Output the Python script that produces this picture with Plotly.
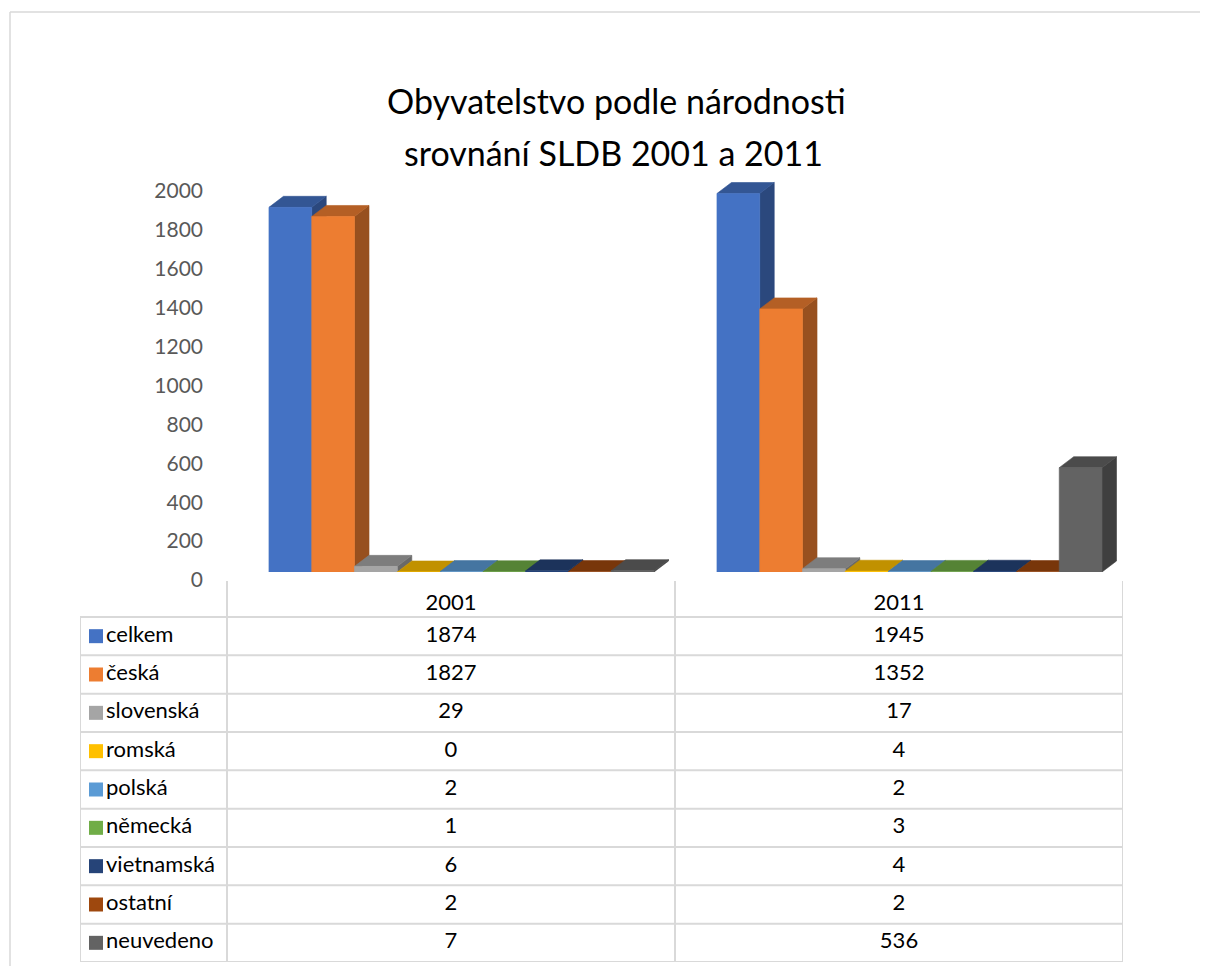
import plotly.graph_objects as go

# ---------------- data ----------------
series = ["celkem", "česká", "slovenská", "romská", "polská",
          "německá", "vietnamská", "ostatní", "neuvedeno"]
years = ["2001", "2011"]
values_2001 = [1874, 1827, 29, 0, 2, 1, 6, 2, 7]
values_2011 = [1945, 1352, 17, 4, 2, 3, 4, 2, 536]
colors = ["#4472C4", "#ED7D31", "#A5A5A5", "#FFC000", "#5B9BD5",
          "#70AD47", "#264478", "#9E480E", "#636363"]
y_ticks = list(range(0, 2001, 200))
title_lines = ["Obyvatelstvo podle národnosti", "srovnání SLDB 2001 a 2011"]

# ---------------- layout helpers ----------------
OFF = 8                      # default page margin of the html body
W, H = 1208 - 2 * OFF, 974 - 2 * OFF
FONT = "Lato"


def px_x(p):
    return (p - OFF) / W


def px_y(p):
    return 1 - (p - OFF) / H


def shade(hex_color, k):
    h = hex_color.lstrip("#")
    r, g, b = (int(h[i:i + 2], 16) for i in (0, 2, 4))
    return "#%02x%02x%02x" % (int(r * k), int(g * k), int(b * k))


# main plot geometry
x_px_per_unit = 448.0
y_base_px = 572
y_scale = 0.1946          # px per value unit
y_max = 2100
y_top_px = y_base_px - y_max * y_scale

bar_w = 0.0955            # width of a front face (x units)
persp_shift = 0.0234      # perspective shift of the front row
depth_dx = 14.5 / x_px_per_unit
depth_dy = 11 / y_scale

fig = go.Figure()

values_by_year = [values_2001, values_2011]
for j, name in enumerate(series):
    col = colors[j]
    side_x, side_y, top_x, top_y, front_x, front_y = [], [], [], [], [], []
    for c, vals in enumerate(values_by_year):
        v = vals[j]
        left = c - 4.5 * bar_w + persp_shift + j * bar_w
        right = left + bar_w
        side_x += [right, right + depth_dx, right + depth_dx, right, right, None]
        side_y += [0, depth_dy, v + depth_dy, v, 0, None]
        top_x += [left, right, right + depth_dx, left + depth_dx, left, None]
        top_y += [v, v, v + depth_dy, v + depth_dy, v, None]
        front_x += [left, right, right, left, left, None]
        front_y += [0, 0, v, v, 0, None]
    for xs, ys, fc in ((side_x, side_y, shade(col, 0.64)),
                       (top_x, top_y, shade(col, 0.76)),
                       (front_x, front_y, col)):
        fig.add_trace(go.Scatter(
            x=xs, y=ys, mode="lines", fill="toself", fillcolor=fc,
            line=dict(color=fc, width=0.6), hoverinfo="skip",
            showlegend=False, xaxis="x", yaxis="y"))

# ---------------- data table ----------------
label_col_units = 147 / x_px_per_unit
row_px = 38.33
header_h = 36 / row_px
n_rows = len(series)
row_y = [i + 0.5 for i in range(n_rows)]
TFS = 22

# legend keys (coloured squares)
fig.add_trace(go.Scatter(
    x=[-label_col_units + 16 / x_px_per_unit] * n_rows, y=row_y,
    mode="markers",
    marker=dict(symbol="square", size=14, color=colors, line=dict(width=0)),
    hoverinfo="skip", showlegend=False, cliponaxis=False,
    xaxis="x2", yaxis="y2"))
# series names
fig.add_trace(go.Scatter(
    x=[-label_col_units + 26 / x_px_per_unit] * n_rows, y=row_y,
    mode="text", text=series, textposition="middle right",
    textfont=dict(family=FONT, size=TFS, color="#000000"),
    hoverinfo="skip", showlegend=False, cliponaxis=False,
    xaxis="x2", yaxis="y2"))

for c, vals in enumerate(values_by_year):
    fig.add_trace(go.Scatter(
        x=[c + 0.5] * n_rows, y=row_y, mode="text",
        text=[str(v) for v in vals], textposition="middle center",
        textfont=dict(family=FONT, size=TFS, color="#000000"),
        hoverinfo="skip", showlegend=False, cliponaxis=False,
        xaxis="x2", yaxis="y2"))

fig.add_trace(go.Scatter(
    x=[c + 0.5 for c in range(len(years))], y=[-13 / row_px] * len(years),
    mode="text", text=years, textposition="middle center",
    textfont=dict(family=FONT, size=TFS, color="#000000"),
    hoverinfo="skip", showlegend=False, cliponaxis=False,
    xaxis="x2", yaxis="y2"))

grid = dict(color="#D9D9D9", width=2)
shapes = []
for i in range(n_rows + 1):
    shapes.append(dict(type="line", xref="x2", yref="y2",
                       x0=-label_col_units, x1=len(years), y0=i, y1=i, line=grid))
shapes.append(dict(type="line", xref="x2", yref="y2",
                   x0=-label_col_units, x1=-label_col_units, y0=0, y1=n_rows, line=grid))
for c in range(len(years) + 1):
    shapes.append(dict(type="line", xref="x2", yref="y2",
                       x0=c, x1=c, y0=-header_h, y1=n_rows, line=grid))
# outer chart border (top and left edges, kept inside the paper)
border = dict(color="#D9D9D9", width=1.5)
shapes.append(dict(type="line", xref="paper", yref="paper",
                   x0=px_x(10), x1=1, y0=px_y(12), y1=px_y(12), line=border))
shapes.append(dict(type="line", xref="paper", yref="paper",
                   x0=px_x(10), x1=px_x(10), y0=0, y1=px_y(12), line=border))

annotations = [
    dict(text=title_lines[0], x=px_x(616), y=px_y(100), xref="paper", yref="paper",
         showarrow=False, xanchor="center", yanchor="middle",
         font=dict(family=FONT, size=34, color="#000000")),
    dict(text=title_lines[1], x=px_x(613), y=px_y(152), xref="paper", yref="paper",
         showarrow=False, xanchor="center", yanchor="middle",
         font=dict(family=FONT, size=34, color="#000000")),
]

fig.update_layout(
    width=W, height=H,
    margin=dict(l=0, r=0, t=0, b=0, autoexpand=False),
    paper_bgcolor="white", plot_bgcolor="rgba(0,0,0,0)",
    showlegend=False,
    shapes=shapes, annotations=annotations,
    xaxis=dict(domain=[px_x(227), px_x(1123)], range=[-0.5, 1.5],
               visible=False, fixedrange=True, automargin=False),
    yaxis=dict(domain=[px_y(y_base_px), px_y(y_top_px)], range=[0, y_max],
               tickvals=y_ticks, showgrid=False, zeroline=False, showline=False,
               ticks="", ticklabelshift=8, ticklabelstandoff=23,
               tickfont=dict(family=FONT, size=21, color="#595959"),
               fixedrange=True, automargin=False),
    xaxis2=dict(domain=[px_x(80), px_x(1123)], range=[-label_col_units, len(years)],
                visible=False, fixedrange=True, automargin=False),
    yaxis2=dict(domain=[px_y(962), px_y(581)], range=[n_rows, -header_h],
                visible=False, fixedrange=True, automargin=False),
)

fig.write_html("out.html")
